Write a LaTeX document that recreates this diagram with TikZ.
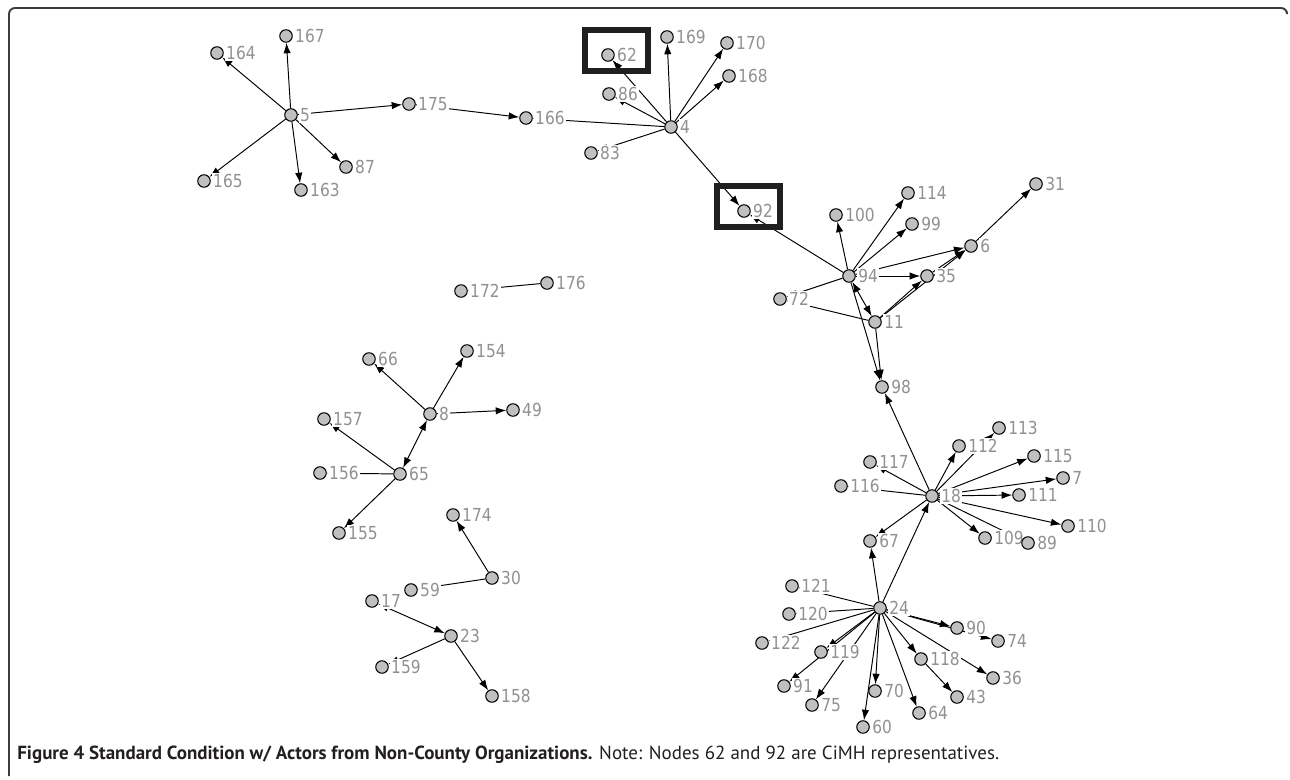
\documentclass[tikz,border=0pt]{standalone}
\usepackage{fontspec}
\setmainfont{PT Sans}
\newfontfamily\actorfont[FakeStretch=0.86]{DejaVu Sans}
\usetikzlibrary{arrows.meta}
\definecolor{actorfill}{RGB}{192,192,192}
\definecolor{labelgray}{RGB}{145,145,145}
\definecolor{framegray}{RGB}{60,60,60}
\definecolor{captionblack}{RGB}{35,31,32}
\pgfdeclarelayer{edges}
\pgfsetlayers{edges,main}

\begin{document}
\begin{tikzpicture}[x=0.02cm, y=-0.02cm]
        \tikzstyle{actor} = [circle, draw=black, fill=actorfill, line width=0.6pt, minimum size=0.25cm, inner sep=0pt];
        \tikzstyle{actorlabel} = [text=labelgray, fill=white, inner sep=0.7pt, font=\actorfont\fontsize{10.2}{11}\selectfont];
        \tikzstyle{tie} = [line width=0.55pt, -{Latex[length=6pt, width=4.2pt]}];
        \tikzstyle{mutual} = [line width=0.55pt, {Latex[length=6pt, width=4.2pt]}-{Latex[length=6pt, width=4.2pt]}];
        \tikzstyle{cimh} = [draw=black!88, line width=0.12cm];

        \useasboundingbox (0,0) rectangle (1290,780);

        % outer frame
        \draw[framegray, line width=1.1pt, rounded corners=0.12cm] (1287,12) -- (1287,8) -- (9,8) -- (9,776);

        % actors
        \foreach \n/\x/\y in {5/291/115, 167/286/36, 164/217/53, 165/204/181, 163/301/190, 87/346/167,
                175/409/104, 166/526/118, 83/591/153, 62/608/55, 169/667/37, 170/727/43, 168/729/76,
                86/609/94, 4/671/127, 92/744/211, 100/836/215, 114/908/193, 99/912/224, 31/1036/184,
                6/971/246, 94/849/276, 35/927/276, 72/780/299, 11/875/322, 98/882/387,
                113/999/428, 112/959/446, 115/1034/456, 117/870/462, 7/1063/478, 116/841/486,
                18/932/496, 111/1019/495, 110/1068/526, 109/985/538, 89/1028/543, 67/870/541,
                121/792/586, 24/880/608, 120/789/614, 122/762/643, 90/957/628, 74/998/641,
                119/821/652, 118/921/659, 36/993/678, 91/784/686, 70/875/691, 43/957/697,
                75/812/705, 64/919/713, 60/863/727,
                172/461/291, 176/547/283, 154/467/351, 66/369/359, 8/430/414, 49/513/410,
                157/324/419, 156/320/473, 65/400/474, 155/339/533, 174/453/515,
                30/492/578, 59/411/590, 17/372/601, 23/451/636, 159/382/667, 158/492/696}
            \node[actor, label={[actorlabel, label distance=0.5pt]right:\n}] (n\n) at (\x,\y) {};

        % ties
        \begin{pgfonlayer}{edges}
            \foreach \a/\b in {5/167, 5/164, 5/165, 5/163, 5/87, 5/175, 175/166, 4/166,
                    4/62, 4/169, 4/170, 4/168, 4/86, 4/83, 4/92,
                    94/92, 94/100, 94/114, 94/99, 94/6, 94/35, 94/72, 11/72, 94/98, 11/98,
                    6/31, 11/35, 11/6, 35/6,
                    18/98, 18/112, 18/113, 18/115, 18/7, 18/111, 18/110, 18/109, 18/89,
                    18/117, 18/116, 18/67, 24/18, 24/67,
                    24/121, 24/120, 24/122, 24/119, 24/91, 24/75, 24/60, 24/70, 24/64,
                    24/118, 118/43, 24/36, 24/90, 24/74,
                    176/172, 8/66, 8/154, 8/49, 65/157, 65/156, 65/155,
                    30/174, 30/59, 23/158, 23/159}
                \draw[tie] (n\a) -- (n\b);
            \foreach \a/\b in {94/11, 8/65, 17/23}
                \draw[mutual] (n\a) -- (n\b);
        \end{pgfonlayer}

        % CiMH boxes
        \draw[cimh] (585,30) rectangle (648,71);
        \draw[cimh] (717,186) rectangle (780,227);

        \node[anchor=west, inner sep=0pt, text=captionblack, font=\fontsize{10.8}{12}\selectfont] (caption) at (17,755)
            {\textbf{Figure 4 Standard Condition w/ Actors from Non-County Organizations.} Note: Nodes 62 and 92 are CiMH representatives.};
    \end{tikzpicture}
\end{document}
